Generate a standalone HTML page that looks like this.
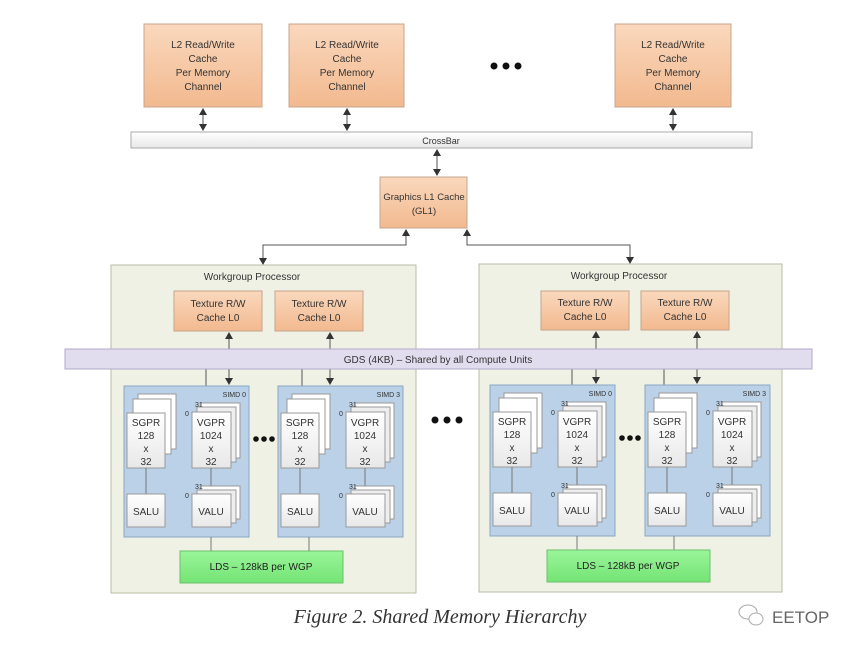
<!DOCTYPE html>
<html><head><meta charset="utf-8"><style>
html,body{margin:0;padding:0;background:#fff;}
svg{display:block;font-family:"Liberation Sans",sans-serif;}
</style></head><body>
<svg width="865" height="651" viewBox="0 0 865 651" xmlns="http://www.w3.org/2000/svg">
<defs>
<linearGradient id="or" x1="0" y1="0" x2="0" y2="1"><stop offset="0" stop-color="#fad8bd"/><stop offset="1" stop-color="#f2b98f"/></linearGradient>
<linearGradient id="gr" x1="0" y1="0" x2="0" y2="1"><stop offset="0" stop-color="#9af59a"/><stop offset="1" stop-color="#74e474"/></linearGradient>
<linearGradient id="wh" x1="0" y1="0" x2="0" y2="1"><stop offset="0" stop-color="#ffffff"/><stop offset="1" stop-color="#e8e8e8"/></linearGradient>
<g id="simd">
  <rect x="0" y="0" width="125" height="151" fill="#bad1e7" stroke="#8ba7c4"/>
  <rect x="14" y="8" width="38" height="55" fill="#fff" stroke="#999"/>
  <rect x="9" y="13" width="38" height="55" fill="#fff" stroke="#999"/>
  <rect x="3" y="27" width="38" height="55" fill="url(#wh)" stroke="#999"/>
  <text x="22" y="40" font-size="10" text-anchor="middle" fill="#333">SGPR</text>
  <text x="22" y="53" font-size="10" text-anchor="middle" fill="#333">128</text>
  <text x="22" y="66" font-size="10" text-anchor="middle" fill="#333">x</text>
  <text x="22" y="79" font-size="10" text-anchor="middle" fill="#333">32</text>
  <rect x="77" y="17" width="39" height="55" fill="#fff" stroke="#999"/>
  <rect x="73" y="21" width="39" height="55" fill="#eee" stroke="#999"/>
  <rect x="68" y="26" width="39" height="56" fill="url(#wh)" stroke="#999"/>
  <text x="71" y="21" font-size="7" fill="#333">31</text>
  <text x="61" y="30" font-size="7" fill="#333">0</text>
  <text x="87" y="40" font-size="10" text-anchor="middle" fill="#333">VGPR</text>
  <text x="87" y="53" font-size="10" text-anchor="middle" fill="#333">1024</text>
  <text x="87" y="66" font-size="10" text-anchor="middle" fill="#333">x</text>
  <text x="87" y="79" font-size="10" text-anchor="middle" fill="#333">32</text>
  <line x1="22" y1="82" x2="22" y2="108" stroke="#777"/>
  <line x1="87" y1="82" x2="87" y2="100" stroke="#777"/>
  <rect x="3" y="108" width="38" height="33" fill="url(#wh)" stroke="#999"/>
  <text x="22" y="129" font-size="10" text-anchor="middle" fill="#333">SALU</text>
  <rect x="77" y="100" width="39" height="33" fill="#fff" stroke="#999"/>
  <rect x="73" y="104" width="39" height="33" fill="#eee" stroke="#999"/>
  <rect x="68" y="108" width="39" height="33" fill="url(#wh)" stroke="#999"/>
  <text x="71" y="103" font-size="7" fill="#333">31</text>
  <text x="61" y="112" font-size="7" fill="#333">0</text>
  <text x="87" y="129" font-size="10" text-anchor="middle" fill="#333">VALU</text>
</g>
</defs>

<g font-size="10" fill="#333" text-anchor="middle">
<rect x="144" y="24" width="118" height="83" fill="url(#or)" stroke="#c7a58c"/>
<text x="203" y="48">L2 Read/Write</text><text x="203" y="62">Cache</text><text x="203" y="76">Per Memory</text><text x="203" y="90">Channel</text>
<rect x="289" y="24" width="115" height="83" fill="url(#or)" stroke="#c7a58c"/>
<text x="347" y="48">L2 Read/Write</text><text x="347" y="62">Cache</text><text x="347" y="76">Per Memory</text><text x="347" y="90">Channel</text>
<rect x="615" y="24" width="116" height="83" fill="url(#or)" stroke="#c7a58c"/>
<text x="673" y="48">L2 Read/Write</text><text x="673" y="62">Cache</text><text x="673" y="76">Per Memory</text><text x="673" y="90">Channel</text>
</g>
<circle cx="494" cy="66" r="3.5" fill="#111"/><circle cx="506" cy="66" r="3.5" fill="#111"/><circle cx="518" cy="66" r="3.5" fill="#111"/>

<g stroke="#555" stroke-width="1">
<line x1="203" y1="114" x2="203" y2="125"/>
<line x1="347" y1="114" x2="347" y2="125"/>
<line x1="673" y1="114" x2="673" y2="125"/>
</g>
<g fill="#333">
<path d="M199,115 L207,115 L203,108 z"/><path d="M199,124 L207,124 L203,131 z"/>
<path d="M343,115 L351,115 L347,108 z"/><path d="M343,124 L351,124 L347,131 z"/>
<path d="M669,115 L677,115 L673,108 z"/><path d="M669,124 L677,124 L673,131 z"/>
</g>

<rect x="131" y="132" width="621" height="16" fill="url(#wh)" stroke="#aaa"/>
<text x="441" y="144" font-size="9" text-anchor="middle" fill="#333">CrossBar</text>

<line x1="437" y1="155" x2="437" y2="170" stroke="#555"/>
<path d="M433,156 L441,156 L437,149 z M433,169 L441,169 L437,176 z" fill="#333"/>

<rect x="380" y="177" width="87" height="51" fill="url(#or)" stroke="#c7a58c"/>
<text x="424" y="200" font-size="9.5" text-anchor="middle" fill="#333">Graphics L1 Cache</text>
<text x="424" y="214" font-size="9.5" text-anchor="middle" fill="#333">(GL1)</text>

<path d="M406,235 L406,245 L263,245 L263,258" fill="none" stroke="#555"/>
<path d="M467,235 L467,245 L630,245 L630,257" fill="none" stroke="#555"/>
<path d="M402,236 L410,236 L406,229 z M259,258 L267,258 L263,265 z M463,236 L471,236 L467,229 z M626,257 L634,257 L630,264 z" fill="#333"/>

<rect x="111" y="265" width="305" height="328" fill="#eef1e4" stroke="#b9bda9"/>
<rect x="479" y="264" width="303" height="328" fill="#eef1e4" stroke="#b9bda9"/>
<text x="252" y="280" font-size="10" text-anchor="middle" fill="#333">Workgroup Processor</text>
<text x="619" y="279" font-size="10" text-anchor="middle" fill="#333">Workgroup Processor</text>

<g font-size="10" fill="#333" text-anchor="middle">
<rect x="174" y="291" width="88" height="40" fill="url(#or)" stroke="#c7a58c"/><text x="218" y="307">Texture R/W</text><text x="218" y="321">Cache L0</text>
<rect x="275" y="291" width="88" height="40" fill="url(#or)" stroke="#c7a58c"/><text x="319" y="307">Texture R/W</text><text x="319" y="321">Cache L0</text>
<rect x="541" y="291" width="88" height="39" fill="url(#or)" stroke="#c7a58c"/><text x="585" y="306">Texture R/W</text><text x="585" y="320">Cache L0</text>
<rect x="641" y="291" width="88" height="39" fill="url(#or)" stroke="#c7a58c"/><text x="685" y="306">Texture R/W</text><text x="685" y="320">Cache L0</text>
</g>

<g stroke="#555">
<line x1="229" y1="338" x2="229" y2="378"/><line x1="330" y1="338" x2="330" y2="378"/>
<line x1="596" y1="337" x2="596" y2="377"/><line x1="697" y1="337" x2="697" y2="377"/>
<line x1="206" y1="369" x2="206" y2="386"/><line x1="302" y1="369" x2="302" y2="386"/>
<line x1="572" y1="369" x2="572" y2="385"/><line x1="664" y1="369" x2="664" y2="385"/>
</g>
<g fill="#333">
<path d="M225,339 L233,339 L229,332 z M326,339 L334,339 L330,332 z M592,338 L600,338 L596,331 z M693,338 L701,338 L697,331 z"/>
</g>

<rect x="65" y="349" width="747" height="20" fill="#e1dcee" stroke="#b3aacb"/>
<text x="438" y="363" font-size="10" text-anchor="middle" fill="#333">GDS (4KB) – Shared by all Compute Units</text>

<g fill="#333">
<path d="M225,378 L233,378 L229,385 z M326,378 L334,378 L330,385 z M592,377 L600,377 L596,384 z M693,377 L701,377 L697,384 z"/>
</g>

<use href="#simd" x="124" y="386"/>
<use href="#simd" x="278" y="386"/>
<use href="#simd" x="490" y="385"/>
<use href="#simd" x="645" y="385"/>
<g font-size="7" fill="#333" text-anchor="end">
<text x="246" y="397">SIMD 0</text><text x="400" y="397">SIMD 3</text><text x="612" y="396">SIMD 0</text><text x="766" y="396">SIMD 3</text>
</g>

<g fill="#111">
<circle cx="256" cy="439" r="2.8"/><circle cx="264" cy="439" r="2.8"/><circle cx="272" cy="439" r="2.8"/>
<circle cx="622" cy="438" r="2.8"/><circle cx="630" cy="438" r="2.8"/><circle cx="638" cy="438" r="2.8"/>
<circle cx="435" cy="420" r="3.5"/><circle cx="447" cy="420" r="3.5"/><circle cx="459" cy="420" r="3.5"/>
</g>

<g stroke="#777">
<line x1="211" y1="537" x2="211" y2="551"/><line x1="309" y1="537" x2="309" y2="551"/>
<line x1="577" y1="536" x2="577" y2="550"/><line x1="674" y1="536" x2="674" y2="550"/>
</g>
<rect x="180" y="551" width="163" height="32" fill="url(#gr)" stroke="#6cbf6c"/>
<text x="261" y="570" font-size="10" text-anchor="middle" fill="#222">LDS – 128kB per WGP</text>
<rect x="547" y="550" width="163" height="32" fill="url(#gr)" stroke="#6cbf6c"/>
<text x="628" y="569" font-size="10" text-anchor="middle" fill="#222">LDS – 128kB per WGP</text>

<text x="440" y="623" font-family="Liberation Serif, serif" font-style="italic" font-size="20" text-anchor="middle" fill="#333">Figure 2. Shared Memory Hierarchy</text>

<g fill="none" stroke="#aaa" stroke-width="1">
<ellipse cx="748" cy="612" rx="9" ry="7"/><ellipse cx="756" cy="619" rx="7" ry="6" fill="#fff"/>
</g>
<text x="772" y="623" font-size="17" fill="#666">EETOP</text>
</svg>
</body></html>
